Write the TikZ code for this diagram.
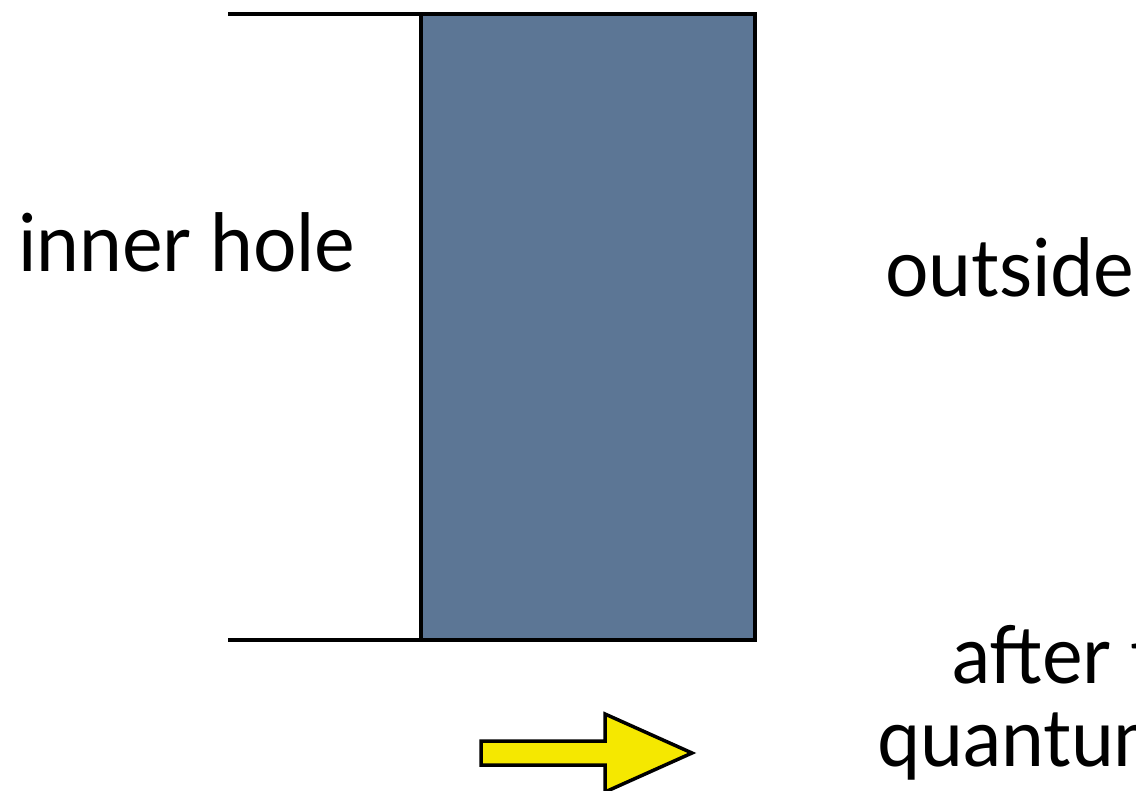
\documentclass[tikz,border=0pt]{standalone}
\usepackage{fontspec}
\setmainfont[FakeStretch=0.96]{Lato}
\begin{document}
\begin{tikzpicture}[x=1pt,y=-1pt,
  wall/.style={draw=black,line width=4.5pt,fill=slab,outer sep=0pt},
  lead/.style={draw=black,line width=4.5pt},
  label/.style={font=\fontsize{80}{80}\selectfont,anchor=base west,inner sep=0pt},
  yarrow/.style={draw=black,line width=3.5pt,fill=arrowyellow,line join=miter}]
\definecolor{slab}{RGB}{92,118,149}
\definecolor{arrowyellow}{RGB}{245,232,0}
\useasboundingbox (0,0) rectangle (1136,791);
\clip (0,0) rectangle (1136,791);
\node[wall,minimum width=334pt,minimum height=626pt,inner sep=0pt,anchor=north west] (slab) at (421,14) {};
\coordinate (topend) at (228,14);
\coordinate (botend) at (228,640);
\draw[lead] (topend) -- (slab.north west);
\draw[lead] (botend) -- (slab.south west);
\node[label] (inner) at (18,272) {inner hole};
\node[label] (outside) at (885,297) {outside};
\node[label] (after) at (952,683) {after t};
\node[label] (quantum) at (877,766) {quantum};
\draw[yarrow] (481,741) -- (605,741) -- (605,714) -- (692,753) -- (605,792) -- (605,765) -- (481,765) -- cycle;
\end{tikzpicture}
\end{document}
